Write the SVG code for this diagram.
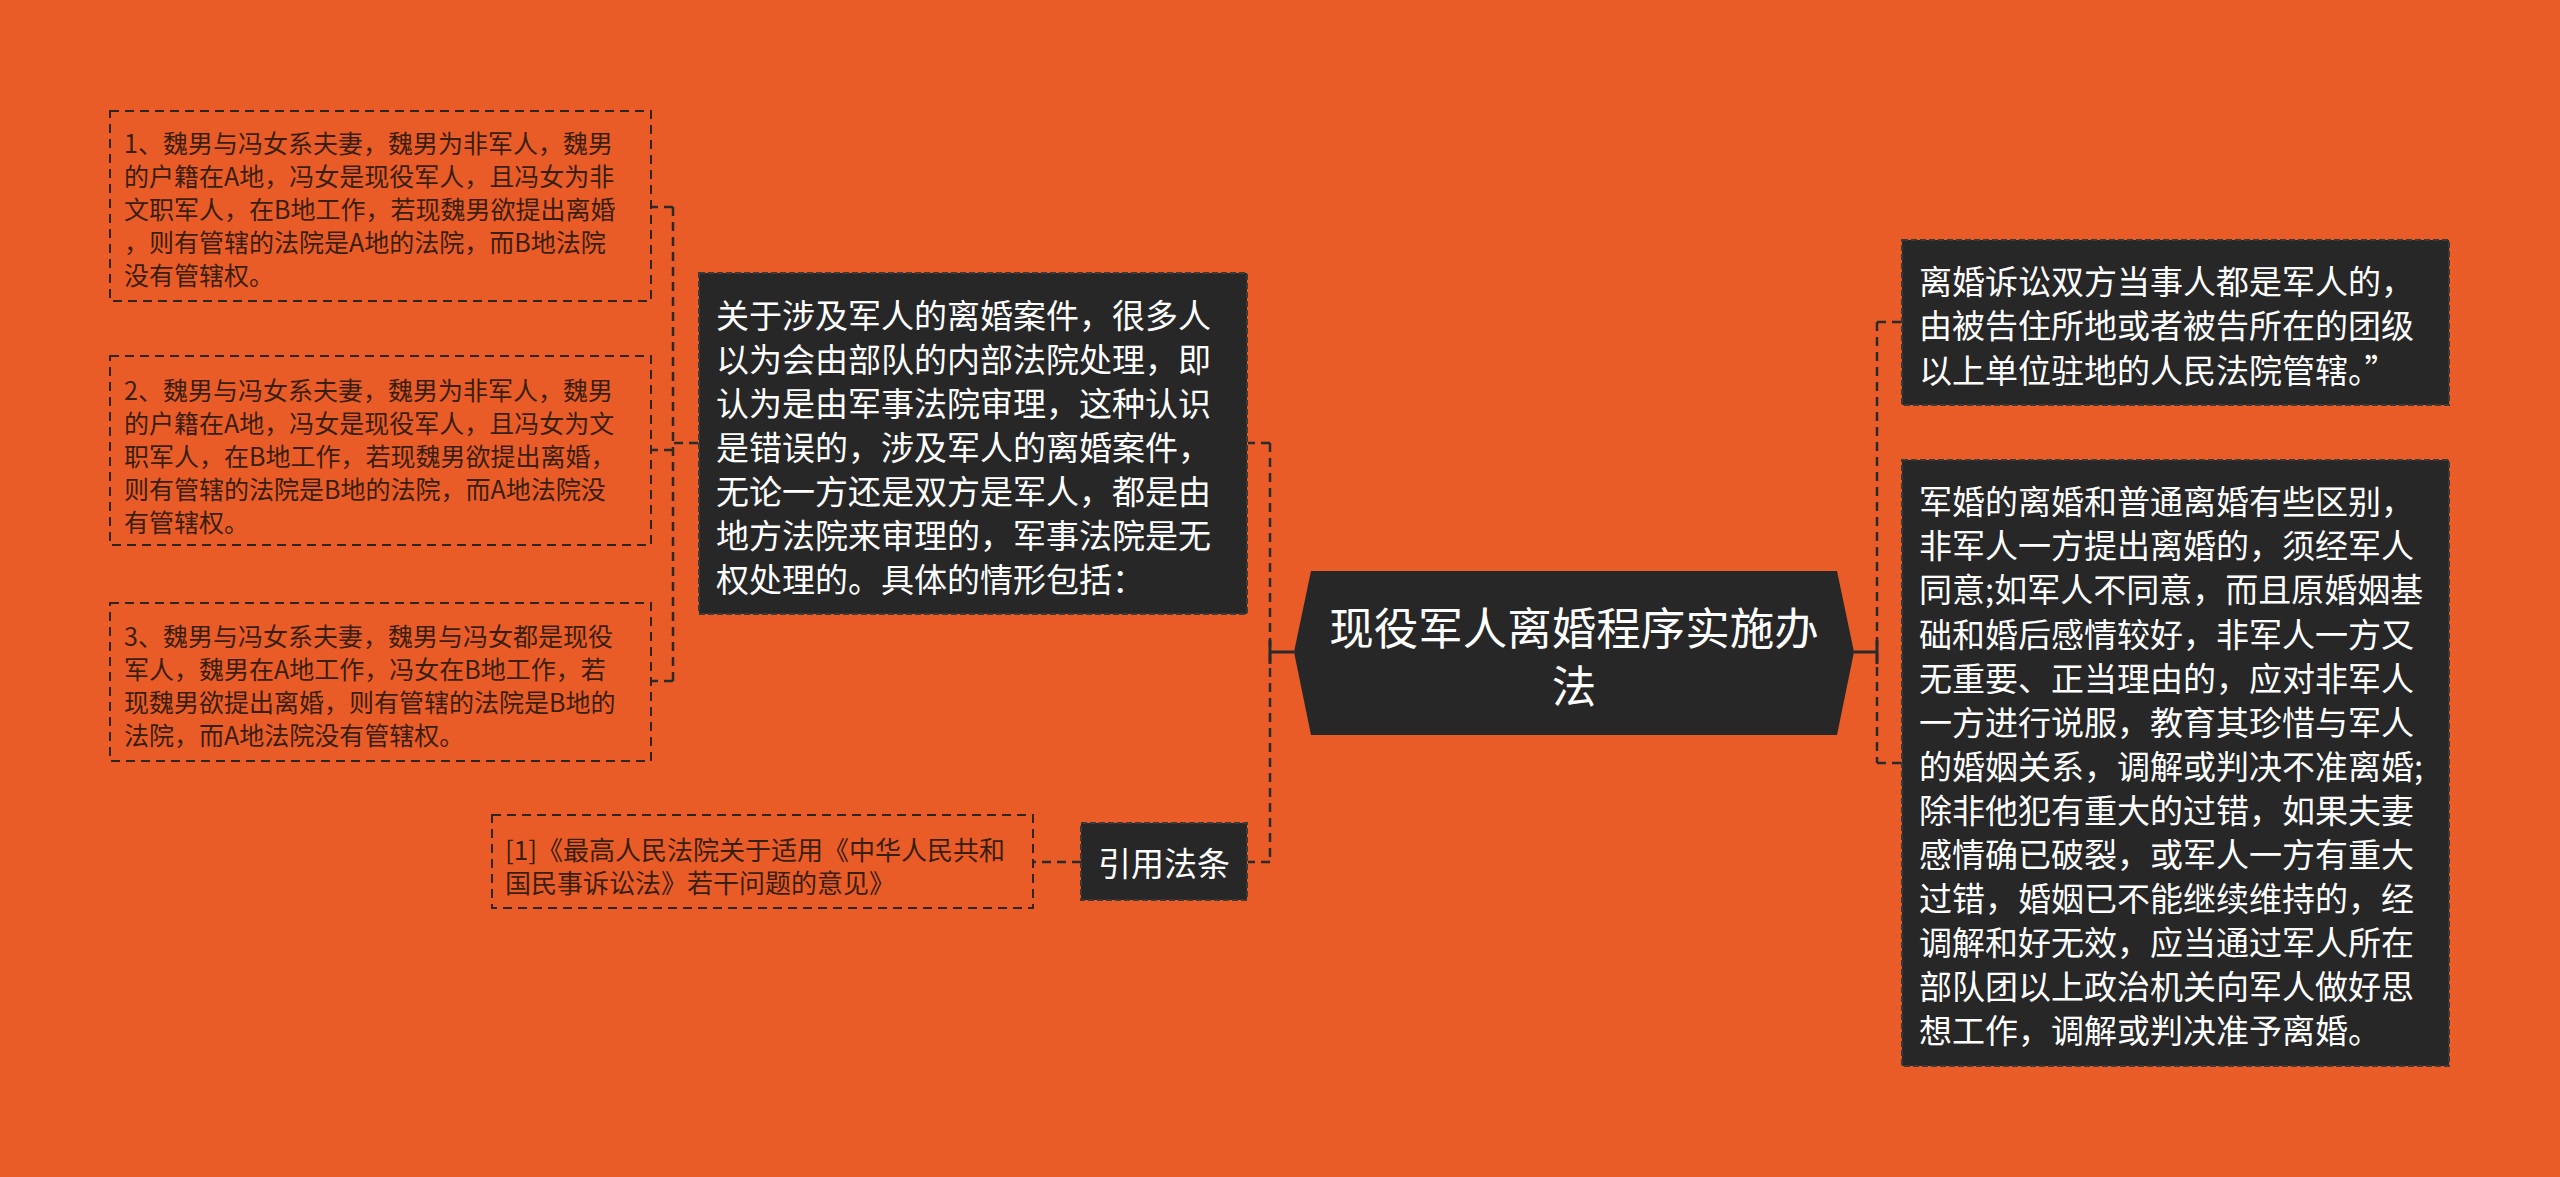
<svg xmlns="http://www.w3.org/2000/svg" width="2560" height="1177" viewBox="0 0 2560 1177">
<style>
.bg{fill:#E95C27}
.lbox{fill:none;stroke:#2E2420;stroke-width:2;stroke-dasharray:9 6}
.dbox{fill:#272727;stroke:#3A3A3A;stroke-width:2;stroke-dasharray:6 3}
.ltxt{font-family:"Microsoft YaHei","Noto Sans CJK SC",sans-serif;font-size:25px;fill:#3A1E10;dominant-baseline:central}
.wtxt{font-family:"Microsoft YaHei","Noto Sans CJK SC",sans-serif;font-size:33px;fill:#FFFFFF;dominant-baseline:central}
.ctxt{font-family:"Microsoft YaHei","Noto Sans CJK SC",sans-serif;font-size:44.5px;fill:#FFFFFF;dominant-baseline:central;text-anchor:middle}
.dash{fill:none;stroke:#2A2A2A;stroke-width:2.5;stroke-dasharray:9 6}
.solid{fill:none;stroke:#2A2A2A;stroke-width:3}
</style>
<rect class="bg" x="0" y="0" width="2560" height="1177"/>

<g id="connectors">
  <line class="solid" x1="1294" y1="652" x2="1270" y2="652"/>
  <line class="solid" x1="1270" y1="640" x2="1270" y2="664"/>
  <path class="dash" d="M1270 443 V862"/>
  <path class="dash" d="M1270 443 H1248"/>
  <path class="dash" d="M1270 862 H1248"/>
  <path class="dash" d="M698 443 H673"/>
  <path class="dash" d="M673 207 V681"/>
  <path class="dash" d="M673 207 H651"/>
  <path class="dash" d="M673 450 H651"/>
  <path class="dash" d="M673 681 H651"/>
  <path class="dash" d="M1081 862 H1033"/>
  <line class="solid" x1="1854" y1="652" x2="1877" y2="652"/>
  <line class="solid" x1="1877" y1="640" x2="1877" y2="664"/>
  <path class="dash" d="M1877 322 V763"/>
  <path class="dash" d="M1877 322 H1902"/>
  <path class="dash" d="M1877 763 H1902"/>
</g>

<g id="center">
  <polygon points="1294,652 1311,571 1837,571 1854,652 1837,735 1311,735" fill="#272727"/>
  <text class="ctxt" x="1574" y="625">现役军人离婚程序实施办</text>
  <text class="ctxt" x="1574" y="683">法</text>
</g>

<g id="main-left">
  <rect class="dbox" x="699" y="273" width="548" height="341"/>
  <text class="wtxt">
    <tspan x="716" y="314">关于涉及军人的离婚案件，很多人</tspan>
    <tspan x="716" y="358">以为会由部队的内部法院处理，即</tspan>
    <tspan x="716" y="402">认为是由军事法院审理，这种认识</tspan>
    <tspan x="716" y="446">是错误的，涉及军人的离婚案件，</tspan>
    <tspan x="716" y="490">无论一方还是双方是军人，都是由</tspan>
    <tspan x="716" y="534">地方法院来审理的，军事法院是无</tspan>
    <tspan x="716" y="578">权处理的。具体的情形包括：</tspan>
  </text>
</g>

<g id="case1">
  <rect class="lbox" x="110" y="111" width="541" height="190"/>
  <text class="ltxt">
    <tspan x="124" y="142">1、魏男与冯女系夫妻，魏男为非军人，魏男</tspan>
    <tspan x="124" y="175">的户籍在A地，冯女是现役军人，且冯女为非</tspan>
    <tspan x="124" y="208">文职军人，在B地工作，若现魏男欲提出离婚</tspan>
    <tspan x="124" y="241">，则有管辖的法院是A地的法院，而B地法院</tspan>
    <tspan x="124" y="274">没有管辖权。</tspan>
  </text>
</g>

<g id="case2">
  <rect class="lbox" x="110" y="356" width="541" height="189"/>
  <text class="ltxt">
    <tspan x="124" y="389">2、魏男与冯女系夫妻，魏男为非军人，魏男</tspan>
    <tspan x="124" y="422">的户籍在A地，冯女是现役军人，且冯女为文</tspan>
    <tspan x="124" y="455">职军人，在B地工作，若现魏男欲提出离婚，</tspan>
    <tspan x="124" y="488">则有管辖的法院是B地的法院，而A地法院没</tspan>
    <tspan x="124" y="521">有管辖权。</tspan>
  </text>
</g>

<g id="case3">
  <rect class="lbox" x="110" y="603" width="541" height="158"/>
  <text class="ltxt">
    <tspan x="124" y="635">3、魏男与冯女系夫妻，魏男与冯女都是现役</tspan>
    <tspan x="124" y="668">军人，魏男在A地工作，冯女在B地工作，若</tspan>
    <tspan x="124" y="701">现魏男欲提出离婚，则有管辖的法院是B地的</tspan>
    <tspan x="124" y="734">法院，而A地法院没有管辖权。</tspan>
  </text>
</g>

<g id="cite-label">
  <rect class="dbox" x="1081" y="823" width="166" height="77"/>
  <text class="wtxt" x="1164" y="862" text-anchor="middle">引用法条</text>
</g>

<g id="citation">
  <rect class="lbox" x="492" y="815" width="541" height="93"/>
  <text class="ltxt" style="font-size:26px">
    <tspan x="505" y="848">[1]《最高人民法院关于适用《中华人民共和</tspan>
    <tspan x="505" y="881">国民事诉讼法》若干问题的意见》</tspan>
  </text>
</g>

<g id="right-top">
  <rect class="dbox" x="1902" y="240" width="547" height="165"/>
  <text class="wtxt">
    <tspan x="1919" y="280">离婚诉讼双方当事人都是军人的，</tspan>
    <tspan x="1919" y="324">由被告住所地或者被告所在的团级</tspan>
    <tspan x="1919" y="369">以上单位驻地的人民法院管辖。”</tspan>
  </text>
</g>

<g id="right-main">
  <rect class="dbox" x="1902" y="460" width="547" height="606"/>
  <text class="wtxt">
    <tspan x="1919" y="500">军婚的离婚和普通离婚有些区别，</tspan>
    <tspan x="1919" y="544">非军人一方提出离婚的，须经军人</tspan>
    <tspan x="1919" y="588">同意;如军人不同意，而且原婚姻基</tspan>
    <tspan x="1919" y="633">础和婚后感情较好，非军人一方又</tspan>
    <tspan x="1919" y="677">无重要、正当理由的，应对非军人</tspan>
    <tspan x="1919" y="721">一方进行说服，教育其珍惜与军人</tspan>
    <tspan x="1919" y="765">的婚姻关系，调解或判决不准离婚;</tspan>
    <tspan x="1919" y="809">除非他犯有重大的过错，如果夫妻</tspan>
    <tspan x="1919" y="853">感情确已破裂，或军人一方有重大</tspan>
    <tspan x="1919" y="897">过错，婚姻已不能继续维持的，经</tspan>
    <tspan x="1919" y="941">调解和好无效，应当通过军人所在</tspan>
    <tspan x="1919" y="985">部队团以上政治机关向军人做好思</tspan>
    <tspan x="1919" y="1029">想工作，调解或判决准予离婚。</tspan>
  </text>
</g>
</svg>
